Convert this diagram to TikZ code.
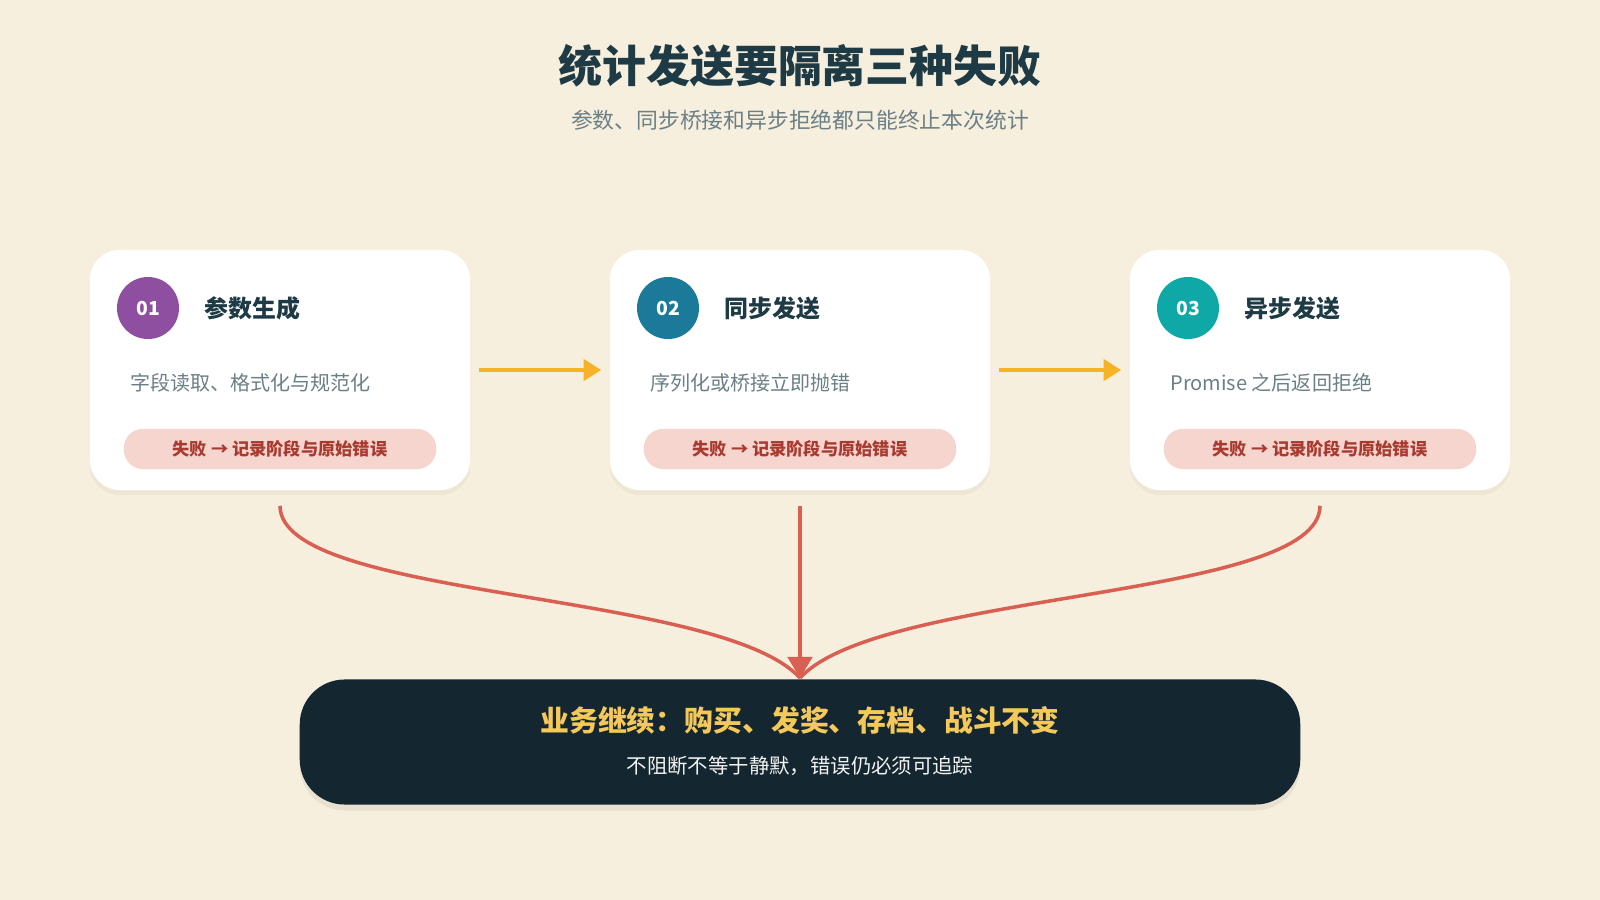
\documentclass[tikz,border=0pt]{standalone}
\usepackage{fontspec}
\setmainfont{Noto Sans CJK SC}
\usetikzlibrary{positioning,shadows,arrows.meta}
\definecolor{bg}{HTML}{F7EFDD}
\definecolor{ink}{HTML}{1E3A44}
\definecolor{muted}{HTML}{6B7F86}
\definecolor{failred}{HTML}{D95F52}
\definecolor{pillbg}{HTML}{F6D5CE}
\definecolor{pilltx}{HTML}{A93A30}
\definecolor{flow}{HTML}{F6B325}
\definecolor{darkbox}{HTML}{14262F}
\definecolor{gold}{HTML}{F5C85A}
\definecolor{nrA}{HTML}{8E4FA0}
\definecolor{nrB}{HTML}{1B7A9A}
\definecolor{nrC}{HTML}{0EA8A6}
\begin{document}
\begin{tikzpicture}[x=0.01cm, y=-0.01cm,
    card/.style={fill=white, rounded corners=0.3cm, minimum width=3.8cm, minimum height=2.4cm,
      drop shadow={opacity=0.08, shadow xshift=0pt, shadow yshift=-0.05cm}},
    badge/.style={circle, inner sep=0pt, minimum size=0.62cm, text=white, font=\bfseries\fontsize{5.5}{6}\selectfont},
    stufe/.style={font=\bfseries\fontsize{6.8}{8}\selectfont, text=ink, anchor=west},
    desc/.style={font=\fontsize{5.7}{7}\selectfont, text=muted, anchor=west},
    pill/.style={fill=pillbg, rounded corners=0.19cm, minimum width=3.12cm, minimum height=0.38cm,
      font=\bfseries\fontsize{4.9}{6}\selectfont, text=pilltx},
    flowarrow/.style={draw=flow, line width=1.3pt, -{Triangle[length=5pt,width=6pt]}},
    fail/.style={draw=failred, line width=1pt}]

    \fill[bg] (0,0) rectangle (1600,900);

    % Titel
    \node[font=\bfseries\fontsize{12.5}{15}\selectfont, text=ink] (titel) at (800,66) {统计发送要隔离三种失败};
    \node[font=\fontsize{6.2}{8}\selectfont, text=muted] (untertitel) at (800,120) {参数、同步桥接和异步拒绝都只能终止本次统计};

    % Karten
    \node[card] (karte1) at (280,370) {};
    \node[card] (karte2) at (800,370) {};
    \node[card] (karte3) at (1320,370) {};

    \node[badge, fill=nrA] (nr1) at (148,308) {01};
    \node[badge, fill=nrB] (nr2) at (668,308) {02};
    \node[badge, fill=nrC] (nr3) at (1188,308) {03};

    \node[stufe] (schritt1) at (192,308) {参数生成};
    \node[stufe] (schritt2) at (712,308) {同步发送};
    \node[stufe] (schritt3) at (1232,308) {异步发送};

    \node[desc] (text1) at (118,383) {字段读取、格式化与规范化};
    \node[desc] (text2) at (638,383) {序列化或桥接立即抛错};
    \node[desc] (text3) at (1158,383) {Promise 之后返回拒绝};

    \foreach \i/\x in {1/280,2/800,3/1320}
        \node[pill] (fehler\i) at (\x,449) {失败 → 记录阶段与原始错误};

    \draw[flowarrow] ([xshift=0.08cm]karte1.east) -- ([xshift=-0.08cm]karte2.west);
    \draw[flowarrow] ([xshift=0.08cm]karte2.east) -- ([xshift=-0.08cm]karte3.west);

    % Ziel
    \node[fill=darkbox, rounded corners=0.45cm, minimum width=10cm, minimum height=1.25cm,
          drop shadow={opacity=0.12, shadow xshift=0pt, shadow yshift=-0.06cm}] (ziel) at (800,742) {};
    \node[font=\bfseries\fontsize{8.2}{10}\selectfont, text=gold] (zieltitel) at (800,720) {业务继续：购买、发奖、存档、战斗不变};
    \node[font=\fontsize{5.8}{7}\selectfont, text=white!90!gray] (zieltext) at (800,766) {不阻断不等于静默，错误仍必须可追踪};

    \coordinate (treffer) at (800,678);
    \draw[fail] ([yshift=-0.15cm]karte1.south) .. controls (280,600) and (720,590) .. (treffer);
    \draw[fail] ([yshift=-0.15cm]karte3.south) .. controls (1320,600) and (880,590) .. (treffer);
    \draw[fail, -{Triangle[length=6pt,width=7pt]}] ([yshift=-0.15cm]karte2.south) -- (treffer);
\end{tikzpicture}
\end{document}
